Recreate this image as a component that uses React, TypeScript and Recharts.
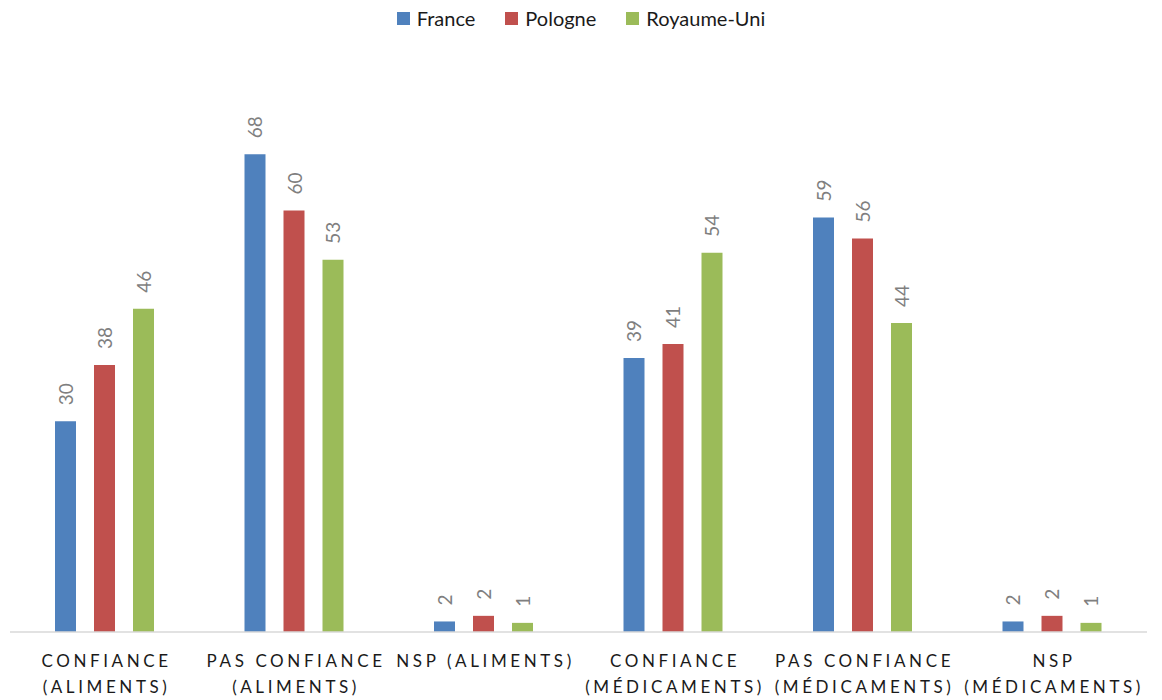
import { BarChart, Bar, XAxis, YAxis, LabelList } from 'recharts';

const categories = [
  'CONFIANCE (ALIMENTS)',
  'PAS CONFIANCE (ALIMENTS)',
  'NSP (ALIMENTS)',
  'CONFIANCE (MÉDICAMENTS)',
  'PAS CONFIANCE (MÉDICAMENTS)',
  'NSP (MÉDICAMENTS)',
];
// how the category names wrap under the axis
const tickLines = [
  ['CONFIANCE', '(ALIMENTS)'],
  ['PAS CONFIANCE', '(ALIMENTS)'],
  ['NSP (ALIMENTS)'],
  ['CONFIANCE', '(MÉDICAMENTS)'],
  ['PAS CONFIANCE', '(MÉDICAMENTS)'],
  ['NSP', '(MÉDICAMENTS)'],
];
const france = [30, 68, 1.5, 39, 59, 1.5];
const pologne = [38, 60, 2.3, 41, 56, 2.3];
const royaumeUni = [46, 53, 1.3, 54, 44, 1.3];

const series = [
  { key: 'France', color: '#4F81BD' },
  { key: 'Pologne', color: '#C0504D' },
  { key: 'Royaume-Uni', color: '#9BBB59' },
];

const data = categories.map((c, i) => ({
  name: c,
  France: france[i],
  Pologne: pologne[i],
  'Royaume-Uni': royaumeUni[i],
}));

const font = 'Lato, "Open Sans", sans-serif';

function CategoryTick(props: any) {
  const { x, y, payload } = props;
  const lines = tickLines[payload.index] || [payload.value];
  return (
    <g transform={`translate(${x},${y})`}>
      {lines.map((l, i) => (
        <text
          key={i}
          x={1.8}
          y={27 + i * 26}
          textAnchor="middle"
          fill="#1a1a1a"
          fontSize={17}
          fontFamily={font}
          style={{ letterSpacing: '3.6px' }}
        >
          {l}
        </text>
      ))}
    </g>
  );
}

function ValueLabel(props: any) {
  const { x, y, width, value } = props;
  const cx = x + width / 2;
  const ty = y - 16;
  return (
    <text
      x={cx}
      y={ty}
      transform={`rotate(-90, ${cx}, ${ty})`}
      textAnchor="start"
      dominantBaseline="central"
      fill="#7F7F7F"
      fontSize={19}
      fontFamily={font}
    >
      {Math.round(Number(value))}
    </text>
  );
}

function TopLegend() {
  return (
    <div
      style={{
        position: 'absolute',
        left: 0,
        top: 6,
        width: 1162,
        display: 'flex',
        justifyContent: 'center',
        gap: 30,
        fontFamily: font,
        fontSize: 20,
        color: '#1a1a1a',
      }}
    >
      {series.map((s) => (
        <div key={s.key} style={{ display: 'flex', alignItems: 'center' }}>
          <span style={{ width: 13, height: 13, background: s.color, display: 'inline-block', marginRight: 7 }} />
          <span>{s.key}</span>
        </div>
      ))}
    </div>
  );
}

export default function App() {
  return (
    <div style={{ position: 'absolute', left: 0, top: 0, width: 1162, height: 700, background: '#fff' }}>
      <BarChart
        width={1162}
        height={700}
        data={data}
        margin={{ top: 70, right: 15, bottom: 0, left: 10 }}
        barSize={21}
        barGap={18}
      >
        <XAxis
          dataKey="name"
          interval={0}
          height={68}
          tickLine={false}
          stroke="#D9D9D9"
          strokeWidth={1.5}
          tick={<CategoryTick />}
        />
        <YAxis hide domain={[0, 80]} />
        {series.map((s) => (
          <Bar key={s.key} dataKey={s.key} fill={s.color} isAnimationActive={false}>
            <LabelList dataKey={s.key} content={<ValueLabel />} />
          </Bar>
        ))}
      </BarChart>
      <TopLegend />
    </div>
  );
}
